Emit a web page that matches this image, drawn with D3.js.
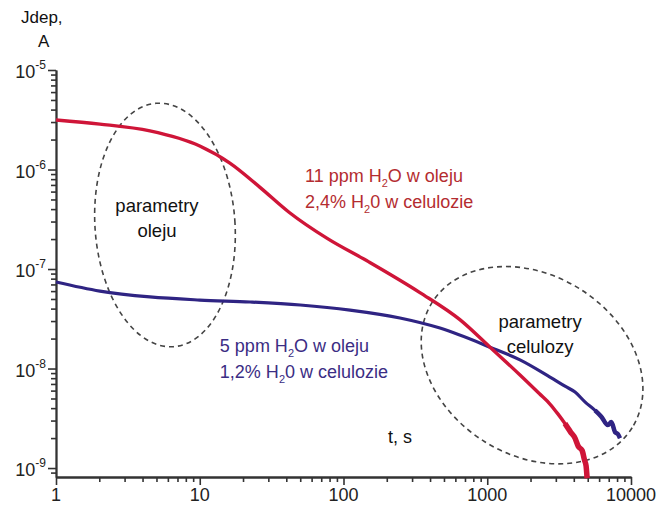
<!DOCTYPE html>
<html>
<head>
<meta charset="utf-8">
<script src="https://cdn.jsdelivr.net/npm/d3@7"></script>
<style>
  body { margin: 0; background: #fff; }
  text { font-family: "Liberation Sans", Arial, sans-serif; }
</style>
</head>
<body>
<div id="chart"></div>
<script>
// Chart params
const width = 661;
const height = 507;

// Red series: 11 ppm H2O w oleju
const redT = [1, 2.02, 4.5, 10, 16.2, 26, 42, 77, 150, 340, 645, 1045, 1690, 2300, 2730, 3100, 3470, 3800, 4080, 4300, 4570, 4750, 4870, 4950];
const redJ = [3.14e-6, 2.86e-6, 2.44e-6, 1.72e-6, 1.16e-6, 6.7e-7, 3.7e-7, 2.03e-7, 1.18e-7, 5.8e-8, 3.1e-8, 1.64e-8, 8.6e-9, 5.6e-9, 4.4e-9, 3.5e-9, 2.8e-9, 2.3e-9, 2.0e-9, 1.65e-9, 1.5e-9, 1.2e-9, 1.05e-9, 7.9e-10];

// Blue series: 5 ppm H2O w oleju
const blueT = [1, 2.02, 4.5, 10, 22.4, 50, 111, 247, 469, 1045, 1690, 2730, 3500, 4080, 4800, 5620, 6200, 6900, 7300, 7740, 8100, 8380];
const blueJ = [7.4e-8, 6.0e-8, 5.24e-8, 4.88e-8, 4.66e-8, 4.35e-8, 3.87e-8, 3.22e-8, 2.55e-8, 1.64e-8, 1.22e-8, 8.2e-9, 6.6e-9, 5.8e-9, 4.6e-9, 3.8e-9, 3.3e-9, 2.7e-9, 2.9e-9, 2.3e-9, 2.2e-9, 2.0e-9];

// Axis ticks
const xMajor = [1, 10, 100, 1000, 10000];
const yMajorExp = [-9, -8, -7, -6, -5];

// Annotations (anchored in data coordinates)
const seriesLabels = [
  { t: 54, j: 7.5e-7, color: "#b42c30", lines: [["11 ppm H", "2", "O w oleju"], ["2,4% H", "2", "0 w celulozie"]] },
  { t: 13.8, j: 1.47e-8, color: "#3b2d84", lines: [["5 ppm H", "2", "O w oleju"], ["1,2% H", "2", "0 w celulozie"]] }
];
const ellipses = [
  { t: 5.73, j: 2.77e-7, rx: 70, ry: 122, rot: -4, dx: -8, dy: -13, lines: ["parametry", "oleju"] },
  { t: 2050, j: 1.08e-8, rx: 118, ry: 90, rot: 32, dx: 8, dy: -37, lines: ["parametry", "celulozy"] }
];

const svg = d3.select('#chart')
  .append('svg')
  .attr('width', width)
  .attr('height', height);

const x = d3.scaleLog()
  .domain([1, 10000])
  .range([56, 631]);

const y = d3.scaleLog()
  .domain([Math.pow(10, -9.09), 1e-5])
  .range([477, 70]);

// Minor ticks
function logTicks(lo, hi) {
  const out = [];
  for (let e = lo; e < hi; e++) {
    for (let m = 1; m < 10; m++) out.push(m * Math.pow(10, e));
  }
  out.push(Math.pow(10, hi));
  return out;
}

const yMajor = yMajorExp.map(e => Math.pow(10, e));
const xMinor = logTicks(0, 4).filter(v => !xMajor.includes(v));
const yMinor = logTicks(-10, -5).filter(v => v >= y.domain()[0] && !yMajor.some(m => Math.abs(m - v) / v < 1e-6));

const axisColor = "#333";

// X axis
const gx = svg.append('g').attr('transform', 'translate(0,477)');
gx.call(d3.axisBottom(x).tickValues(xMinor).tickSize(5).tickFormat('').tickSizeOuter(0));
gx.call(g => g.append('g').call(d3.axisBottom(x).tickValues(xMajor).tickSize(8).tickFormat('').tickSizeOuter(0)));
gx.selectAll('line').attr('stroke', axisColor).attr('stroke-width', 1.6);
gx.selectAll('.domain').attr('stroke', axisColor).attr('stroke-width', 1.8);

svg.selectAll('.xlab')
  .data(xMajor)
  .enter()
  .append('text')
  .attr('class', 'xlab')
  .attr('x', d => x(d))
  .attr('y', 501)
  .attr('text-anchor', 'middle')
  .attr('font-size', 18)
  .attr('fill', '#222')
  .text(d => d);

// Y axis
const gy = svg.append('g').attr('transform', 'translate(56,0)');
gy.call(d3.axisLeft(y).tickValues(yMinor).tickSize(5).tickFormat('').tickSizeOuter(0));
gy.call(g => g.append('g').call(d3.axisLeft(y).tickValues(yMajor).tickSize(8).tickFormat('').tickSizeOuter(0)));
gy.selectAll('line').attr('stroke', axisColor).attr('stroke-width', 1.6);
gy.selectAll('.domain').attr('stroke', axisColor).attr('stroke-width', 1.8);

const ylab = svg.selectAll('.ylab')
  .data(yMajorExp)
  .enter()
  .append('text')
  .attr('class', 'ylab')
  .attr('x', 46)
  .attr('y', d => y(Math.pow(10, d)) + 8)
  .attr('text-anchor', 'end')
  .attr('font-size', 18)
  .attr('fill', '#222');
ylab.append('tspan').text('10');
ylab.append('tspan').attr('dy', -9).attr('font-size', 12).text(d => '-' + (-d));

// Axis titles
svg.append('text').attr('x', 21).attr('y', 23).attr('font-size', 17).attr('fill', '#111').text('Jdep,');
svg.append('text').attr('x', 38).attr('y', 47).attr('font-size', 17).attr('fill', '#111').text('A');
svg.append('text').attr('x', 388).attr('y', 443).attr('font-size', 18).attr('fill', '#111').text('t, s');

// Ellipses
const eg = svg.selectAll('.ell')
  .data(ellipses)
  .enter()
  .append('g')
  .attr('class', 'ell')
  .attr('transform', d => `translate(${x(d.t)},${y(d.j)})`);

eg.append('ellipse')
  .attr('rx', d => d.rx)
  .attr('ry', d => d.ry)
  .attr('transform', d => `rotate(${d.rot})`)
  .attr('fill', 'none')
  .attr('stroke', '#444')
  .attr('stroke-width', 1.6)
  .attr('stroke-dasharray', '5,4');

eg.each(function (d) {
  const g = d3.select(this);
  d.lines.forEach((s, i) => {
    g.append('text')
      .attr('x', d.dx)
      .attr('y', d.dy + i * 25)
      .attr('text-anchor', 'middle')
      .attr('font-size', 18.5)
      .attr('fill', '#111')
      .text(s);
  });
});

// Curves
const line = d3.line()
  .x(d => x(d[0]))
  .y(d => y(d[1]))
  .curve(d3.curveMonotoneX);

const blueData = blueT.map((t, i) => [t, blueJ[i]]);
const redData = redT.map((t, i) => [t, redJ[i]]);

svg.append('path')
  .datum(blueData)
  .attr('d', line)
  .attr('fill', 'none')
  .attr('stroke', '#2f2483')
  .attr('stroke-width', 3.2);

// noisy tail drawn thicker
svg.append('path')
  .datum(blueData.filter(d => d[0] >= 5600))
  .attr('d', line)
  .attr('fill', 'none')
  .attr('stroke', '#2f2483')
  .attr('stroke-width', 4.5);

svg.append('path')
  .datum(redData)
  .attr('d', line)
  .attr('fill', 'none')
  .attr('stroke', '#cf1538')
  .attr('stroke-width', 3.4);

svg.append('path')
  .datum(redData.filter(d => d[0] >= 3400))
  .attr('d', line)
  .attr('fill', 'none')
  .attr('stroke', '#cf1538')
  .attr('stroke-width', 5.5);

// Series labels
seriesLabels.forEach(s => {
  s.lines.forEach((parts, i) => {
    const t = svg.append('text')
      .attr('x', x(s.t))
      .attr('y', y(s.j) + i * 26)
      .attr('font-size', 18)
      .attr('fill', s.color);
    t.append('tspan').text(parts[0]);
    t.append('tspan').attr('dy', 5).attr('font-size', 11).text(parts[1]);
    t.append('tspan').attr('dy', -5).text(parts[2]);
  });
});
</script>
</body>
</html>
